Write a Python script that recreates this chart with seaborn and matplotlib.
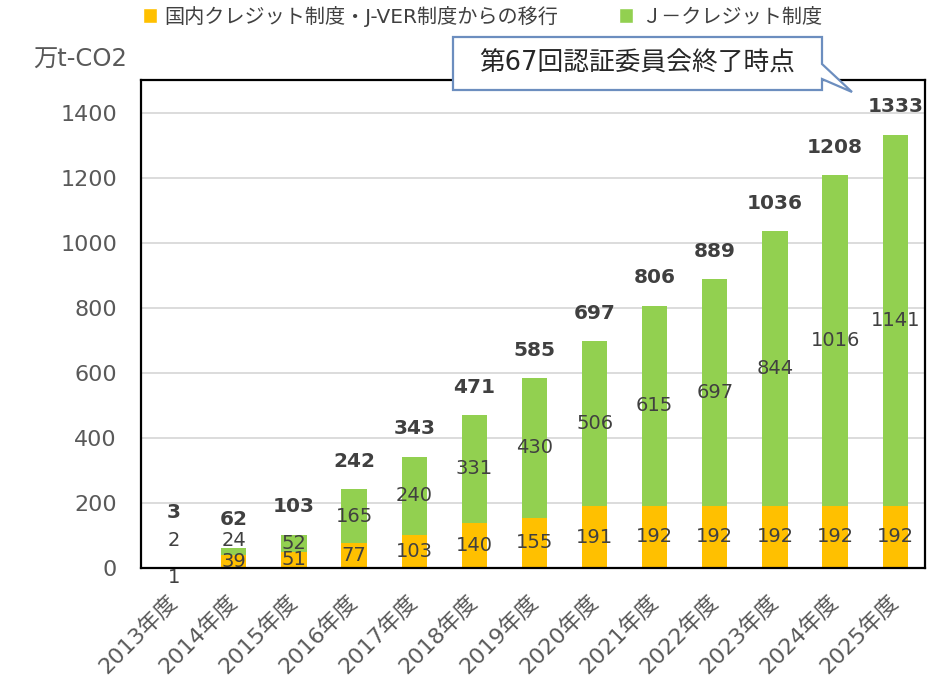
import matplotlib
matplotlib.use("Agg")
import matplotlib.pyplot as plt
import seaborn as sns
import pandas as pd
from matplotlib.patches import Patch, Polygon

# データ（万t-CO2）
years = ["2013年度", "2014年度", "2015年度", "2016年度", "2017年度", "2018年度", "2019年度",
         "2020年度", "2021年度", "2022年度", "2023年度", "2024年度", "2025年度"]
transfer = [1, 39, 51, 77, 103, 140, 155, 191, 192, 192, 192, 192, 192]
jcredit = [2, 24, 52, 165, 240, 331, 430, 506, 615, 697, 844, 1016, 1141]
totals = [3, 62, 103, 242, 343, 471, 585, 697, 806, 889, 1036, 1208, 1333]

legend_labels = ["国内クレジット制度・J-VER制度からの移行", "Ｊ－クレジット制度"]
callout_text = "第67回認証委員会終了時点"
unit_label = "万t-CO2"

YELLOW = "#FFC000"
GREEN = "#92D050"
TEXT = "#404040"
GREY = "#595959"

df = pd.DataFrame({"year": years, "transfer": transfer, "jcredit": jcredit})
df["stack"] = df["transfer"] + df["jcredit"]

sns.set_theme(style="white")
# 数字は Verdana 風の DejaVu、和文は Noto にフォールバック
plt.rcParams["font.family"] = ["DejaVu Sans", "Noto Sans CJK JP"]

fig = plt.figure(figsize=(9.5, 6.98), dpi=100)
ax = fig.add_axes([0.148, 0.186, 0.826, 0.699])

# 積み上げ：合計高さの緑の上に黄色を重ねる
sns.barplot(data=df, x="year", y="stack", color=GREEN, width=0.42, saturation=1,
            linewidth=0, ax=ax)
sns.barplot(data=df, x="year", y="transfer", color=YELLOW, width=0.42, saturation=1,
            linewidth=0, ax=ax)

ax.set_ylim(0, 1500)
ax.set_xlim(-0.55, 12.5)
ax.set_yticks(range(0, 1401, 200))
ax.yaxis.grid(True, color="#D9D9D9", linewidth=1.3)
ax.set_axisbelow(True)
ax.set_xlabel("")
ax.set_ylabel("")
for s in ax.spines.values():
    s.set_visible(True)
    s.set_color("black")
    s.set_linewidth(1.6)
ax.tick_params(axis="both", length=0, colors=GREY)
ax.tick_params(axis="y", labelsize=16, pad=17)
ax.tick_params(axis="x", labelsize=16, pad=22)
plt.setp(ax.get_xticklabels(), rotation=45, ha="right", va="center", rotation_mode="anchor")

# データラベル
LIFT = 85
for i in range(len(years)):
    t, j = transfer[i], jcredit[i]
    if t < 10:
        ax.text(i, t / 2, str(t), ha="center", va="top", fontsize=14, color=TEXT)
    else:
        ax.text(i, t / 2, str(t), ha="center", va="center", fontsize=14, color=TEXT)
    gy = t + j / 2 if j >= 30 else LIFT
    ax.text(i, gy, str(j), ha="center", va="center", fontsize=14, color=TEXT)
    base = t + j if t + j >= 10 else LIFT
    ax.annotate(str(totals[i]), (i, base), xytext=(0, 20), textcoords="offset points",
                ha="center", va="center", fontsize=14.5, fontweight="bold", color=TEXT)

# 単位
fig.text(33 / 950, 1 - 60 / 698, unit_label, fontsize=17.5, color=GREY, va="center", ha="left")

# 凡例
handles = [Patch(facecolor=YELLOW), Patch(facecolor=GREEN)]
leg = fig.legend(handles, legend_labels, loc="upper left", bbox_to_anchor=(0.131, 1.018),
                 ncol=2, frameon=False, fontsize=14.5, handlelength=0.7, handleheight=0.7,
                 handletextpad=0.4, columnspacing=3.0)
for t in leg.get_texts():
    t.set_color(TEXT)

# 吹き出し（右下に尾）
pts = [(453, 37), (822, 37), (822, 64), (852, 92), (822, 79), (822, 90), (453, 90)]
poly = Polygon([(x / 950, 1 - y / 698) for x, y in pts], closed=True, transform=fig.transFigure,
               facecolor="white", edgecolor="#6C8EBF", linewidth=1.6, zorder=5)
fig.patches.append(poly)
fig.text(637 / 950, 1 - 64 / 698, callout_text, fontsize=18.5, color="#262626",
         ha="center", va="center", zorder=6)

fig.savefig("out.png", dpi=100)
